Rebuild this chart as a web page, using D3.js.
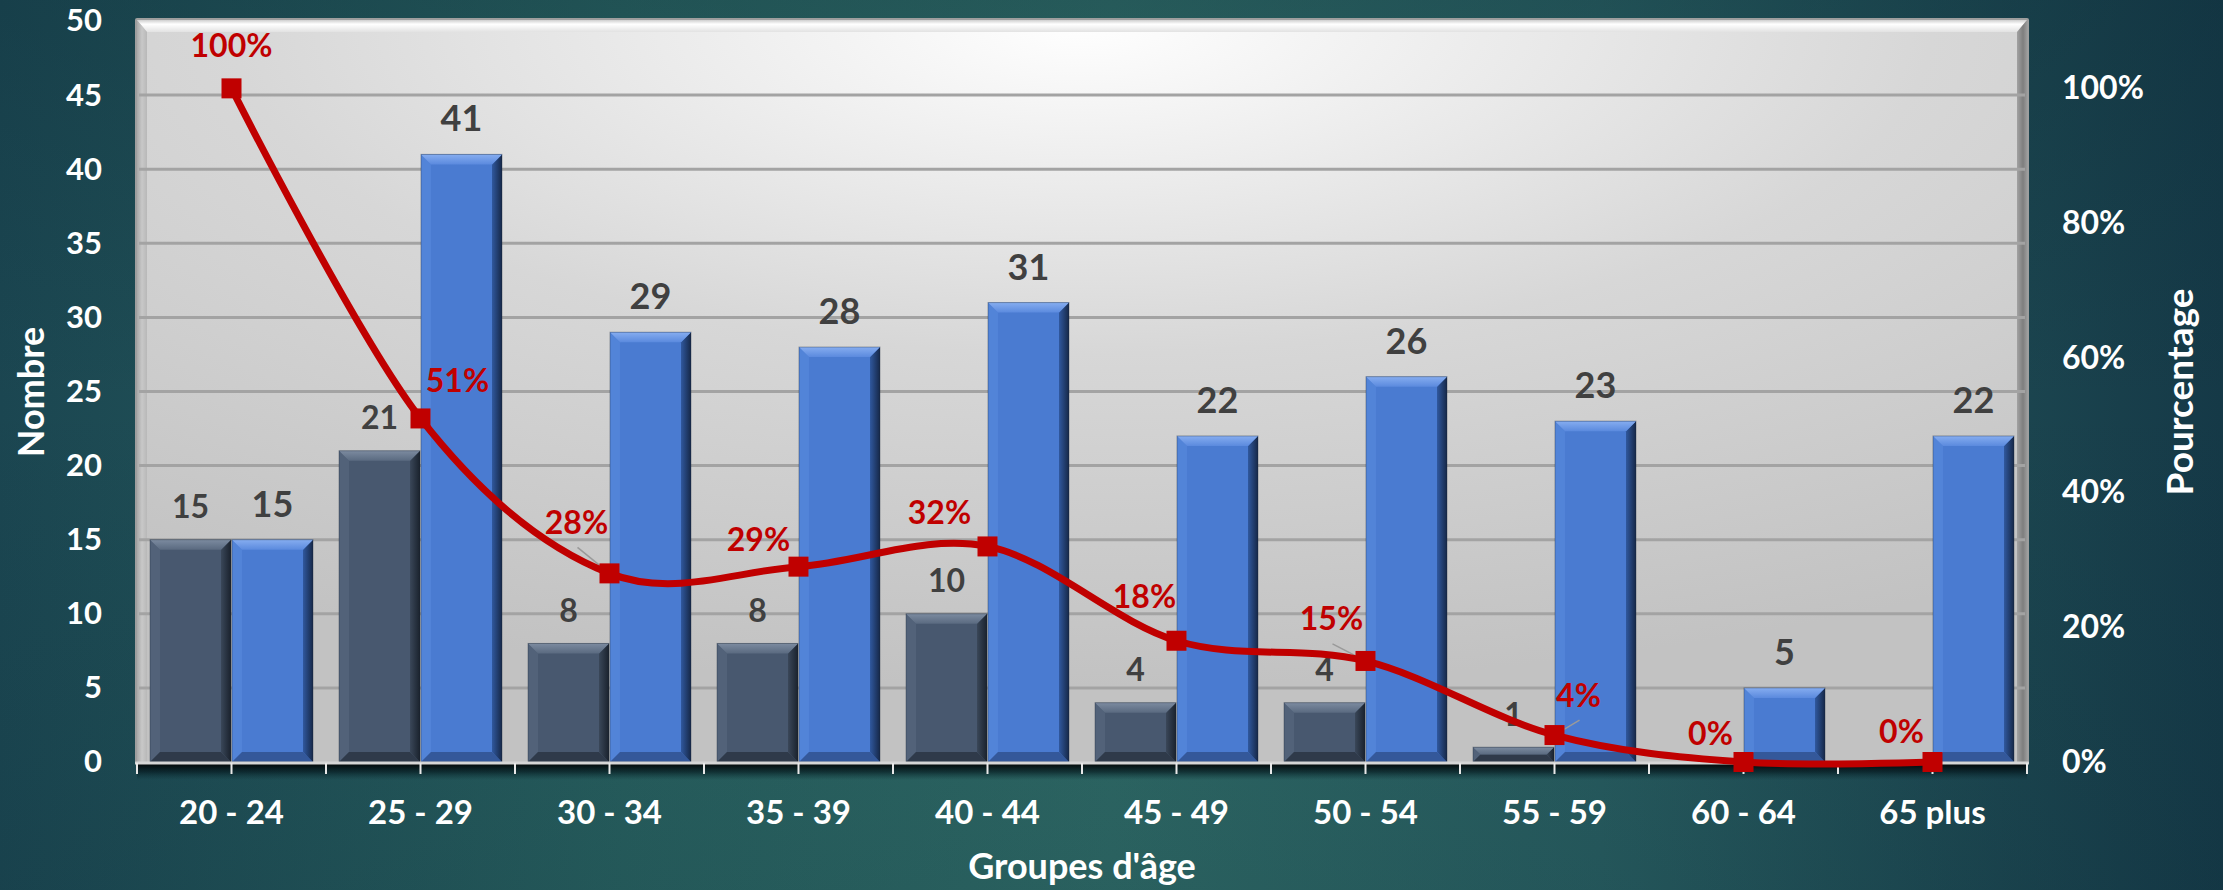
<!DOCTYPE html>
<html lang="fr">
<head>
<meta charset="utf-8">
<title>Groupes d'âge</title>
<script src="https://cdn.jsdelivr.net/npm/d3@7"></script>
<style>
  html, body { margin: 0; padding: 0; background: #1f5058; }
  svg { display: block; }
  text { font-family: Lato, "Open Sans", "Noto Sans", sans-serif; font-weight: 700; }
</style>
</head>
<body>
<svg id="chart" width="2223" height="890"></svg>
<script>
// ---- Data ----
const categories = ["20 - 24", "25 - 29", "30 - 34", "35 - 39", "40 - 44",
                    "45 - 49", "50 - 54", "55 - 59", "60 - 64", "65 plus"];
const countsDark = [15, 21, 8, 8, 10, 4, 4, 1, 0, 0];
const countsBlue = [15, 41, 29, 28, 31, 22, 26, 23, 5, 22];
const percentages = [1.00, 0.51, 0.28, 0.29, 0.32, 0.18, 0.15, 0.04, 0.00, 0.00];
const leftTicks = [0, 5, 10, 15, 20, 25, 30, 35, 40, 45, 50];
const rightTicks = [0, 0.2, 0.4, 0.6, 0.8, 1.0];

// ---- Label placement for the percentage line (offsets from each marker) ----
const pctLabelOffsets = [[0, -43], [37, -38], [-33, -51], [-40, -27], [-48, -34],
                         [-32, -44], [-34, -42], [24, -40], [-33, -29], [-31, -31]];
const pctLeader = [false, false, true, false, false, false, true, true, false, false];

// ---- Geometry ----
const W = 2223, H = 890;
const plot = { left: 137, right: 2027, top: 21, bottom: 762 };
const svg = d3.select("#chart");
const defs = svg.append("defs");

const x0 = d3.scaleBand(categories, [plot.left, plot.right])
  .paddingInner(0.1376).paddingOuter(0.0688);
const x1 = d3.scaleBand(["dark", "blue"], [0, x0.bandwidth()]).paddingInner(0.012);
const yLeft = d3.scaleLinear([0, 50], [plot.bottom, plot.top]);
const yRight = d3.scaleLinear([0, 1.1], [plot.bottom, plot.top]);

// ---- Gradients ----
function linear(id, x2, y2, stops) {
  const g = defs.append("linearGradient").attr("id", id)
    .attr("x1", 0).attr("y1", 0).attr("x2", x2).attr("y2", y2);
  stops.forEach(([o, c, a]) => g.append("stop").attr("offset", o)
    .attr("stop-color", c).attr("stop-opacity", a == null ? 1 : a));
}
linear("bgH", 1, 0, [[0, "#1b4651"], [0.28, "#28605f"], [0.5, "#2f6a66"], [0.72, "#285d60"], [1, "#153947"]]);
linear("bgV", 0, 1, [[0, "#0b2a35", 0.25], [0.45, "#0b2a35", 0], [1, "#0b2a35", 0.15]]);
const rg = defs.append("radialGradient").attr("id", "plotBg")
  .attr("cx", 0.5).attr("cy", 0).attr("r", 0.9);
[[0, "#ffffff"], [0.5, "#d7d7d7"], [1, "#c2c2c2"]].forEach(([o, c]) =>
  rg.append("stop").attr("offset", o).attr("stop-color", c));
linear("bevTop", 0, 1, [[0, "#cfcfcf"], [0.35, "#ffffff"], [1, "#e2e2e2"]]);
linear("bevLeft", 1, 0, [[0, "#a8a8a8"], [0.5, "#c8c8c8"], [1, "#b8b8b8"]]);
linear("bevRight", 1, 0, [[0, "#a2a2a2"], [0.6, "#7e7e7e"], [1, "#9a9a9a"]]);
linear("axisShadow", 0, 1, [[0, "#000000", 0.9], [0.5, "#03141a", 0.6], [1, "#0a2b30", 0]]);

const barStyles = {
  dark: { base: "#48586f", top: ["#7c8ba0", "#5a6a80"], left: "#526279",
          right: ["#3a4759", "#1a222d"], bottom: "#2f3a4a" },
  blue: { base: "#4a7bd1", top: ["#86adf0", "#5b8ade"], left: "#5284d8",
          right: ["#30589e", "#162848"], bottom: "#34589a" }
};
Object.entries(barStyles).forEach(([k, s]) => {
  linear("top-" + k, 0, 1, [[0, s.top[0]], [1, s.top[1]]]);
  linear("right-" + k, 1, 0, [[0, s.right[0]], [1, s.right[1]]]);
});

// ---- Background ----
svg.append("rect").attr("width", W).attr("height", H).attr("fill", "url(#bgH)");
svg.append("rect").attr("width", W).attr("height", H).attr("fill", "url(#bgV)");

// ---- Plot area with bevelled frame ----
const bv = 10;
svg.append("rect")
  .attr("x", plot.left - 2).attr("y", plot.top - 3)
  .attr("width", plot.right - plot.left + 4).attr("height", plot.bottom - plot.top + 4)
  .attr("fill", "#9e9e9e").attr("rx", 2);
svg.append("rect")
  .attr("x", plot.left).attr("y", plot.top - 1)
  .attr("width", plot.right - plot.left).attr("height", plot.bottom - plot.top + 1)
  .attr("fill", "url(#plotBg)");
const fTop = plot.top - 1;
svg.append("path").attr("fill", "url(#bevTop)")
  .attr("d", `M${plot.left},${fTop}L${plot.right},${fTop}L${plot.right - bv},${fTop + bv + 2}L${plot.left + bv},${fTop + bv + 2}Z`);
svg.append("path").attr("fill", "url(#bevLeft)")
  .attr("d", `M${plot.left},${fTop}L${plot.left + bv},${fTop + bv + 2}L${plot.left + bv},${plot.bottom}L${plot.left},${plot.bottom}Z`);
svg.append("path").attr("fill", "url(#bevRight)")
  .attr("d", `M${plot.right},${fTop}L${plot.right - bv},${fTop + bv + 2}L${plot.right - bv},${plot.bottom}L${plot.right},${plot.bottom}Z`);

// Gridlines
svg.append("g").selectAll("line")
  .data(leftTicks.filter(t => t > 0 && t < 50))
  .join("line")
  .attr("x1", plot.left + 2).attr("x2", plot.right - 2)
  .attr("y1", d => yLeft(d)).attr("y2", d => yLeft(d))
  .attr("stroke", "#a3a3a3").attr("stroke-width", 3);

// ---- Bars (with bevel) ----
const series = [
  { key: "dark", values: countsDark },
  { key: "blue", values: countsBlue }
];
const barData = [];
series.forEach(s => s.values.forEach((v, i) =>
  barData.push({ key: s.key, cat: categories[i], value: v })));

const barsG = svg.append("g");
barData.filter(d => d.value > 0).forEach(d => {
  const s = barStyles[d.key];
  const x = x0(d.cat) + x1(d.key);
  const w = x1.bandwidth();
  const yT = yLeft(d.value);
  const yB = yLeft(0);
  const b = Math.min(10, (yB - yT) / 2);
  const g = barsG.append("g");
  g.append("rect").attr("x", x).attr("y", yT).attr("width", w).attr("height", yB - yT).attr("fill", s.base);
  g.append("path").attr("fill", s.left)
    .attr("d", `M${x},${yT}L${x + b},${yT + b}L${x + b},${yB - b}L${x},${yB}Z`);
  g.append("path").attr("fill", s.bottom)
    .attr("d", `M${x},${yB}L${x + b},${yB - b}L${x + w - b},${yB - b}L${x + w},${yB}Z`);
  g.append("path").attr("fill", `url(#right-${d.key})`)
    .attr("d", `M${x + w},${yT}L${x + w - b},${yT + b}L${x + w - b},${yB - b}L${x + w},${yB}Z`);
  g.append("path").attr("fill", `url(#top-${d.key})`)
    .attr("d", `M${x},${yT}L${x + w},${yT}L${x + w - b},${yT + b}L${x + b},${yT + b}Z`);
  g.append("rect").attr("x", x).attr("y", yT).attr("width", w).attr("height", yB - yT)
    .attr("fill", "none").attr("stroke", "#1b2433").attr("stroke-opacity", 0.35).attr("stroke-width", 1);
});

// ---- X axis: baseline, shadow, ticks ----
svg.append("rect").attr("x", plot.left).attr("y", plot.bottom + 2)
  .attr("width", plot.right - plot.left).attr("height", 16).attr("fill", "url(#axisShadow)");
svg.append("line").attr("x1", plot.left - 2).attr("x2", plot.right + 2)
  .attr("y1", plot.bottom + 1).attr("y2", plot.bottom + 1)
  .attr("stroke", "#d6d6d6").attr("stroke-width", 3);
const step = x0.step();
const tickXs = [];
categories.forEach(c => {
  tickXs.push(x0(c) - x0.paddingOuter() * step);
  tickXs.push(x0(c) + x0.bandwidth() / 2);
});
tickXs.push(plot.right);
svg.append("g").selectAll("line").data(tickXs).join("line")
  .attr("x1", d => d).attr("x2", d => d)
  .attr("y1", plot.bottom + 1).attr("y2", plot.bottom + 12)
  .attr("stroke", "#e8e8e8").attr("stroke-width", 2);

// Category labels
svg.append("g").selectAll("text").data(categories).join("text")
  .attr("x", d => x0(d) + x0.bandwidth() / 2)
  .attr("y", 812).attr("dy", "0.36em")
  .attr("text-anchor", "middle").attr("fill", "#ffffff").attr("font-size", 33)
  .text(d => d);

// ---- Y axes ----
const axL = svg.append("g").attr("transform", `translate(${plot.left},0)`)
  .call(d3.axisLeft(yLeft).tickValues(leftTicks).tickSize(0).tickPadding(35));
axL.select(".domain").remove();
axL.selectAll("text").attr("fill", "#ffffff").attr("font-size", 31)
  .style("font-family", "Lato, 'Open Sans', sans-serif").style("font-weight", 700);

const axR = svg.append("g").attr("transform", `translate(${plot.right},0)`)
  .call(d3.axisRight(yRight).tickValues(rightTicks).tickSize(0).tickPadding(35)
    .tickFormat(d3.format(".0%")));
axR.select(".domain").remove();
axR.selectAll("text").attr("fill", "#ffffff").attr("font-size", 32)
  .style("font-family", "Lato, 'Open Sans', sans-serif").style("font-weight", 700);

// Axis titles
svg.append("text").attr("x", (plot.left + plot.right) / 2).attr("y", 866).attr("dy", "0.36em")
  .attr("text-anchor", "middle").attr("fill", "#ffffff").attr("font-size", 36)
  .text("Groupes d'âge");
svg.append("text").attr("transform", "translate(31,392) rotate(-90)").attr("dy", "0.36em")
  .attr("text-anchor", "middle").attr("fill", "#ffffff").attr("font-size", 36)
  .text("Nombre");
svg.append("text").attr("transform", "translate(2180,392) rotate(-90)").attr("dy", "0.36em")
  .attr("text-anchor", "middle").attr("fill", "#ffffff").attr("font-size", 37)
  .text("Pourcentage");

// ---- Bar value labels ----
svg.append("g").selectAll("text")
  .data(barData.filter(d => d.value > 0)).join("text")
  .attr("x", d => x0(d.cat) + x1(d.key) + x1.bandwidth() / 2)
  .attr("y", d => yLeft(d.value) - (d.key === "blue" ? 36 : 33))
  .attr("dy", "0.36em").attr("text-anchor", "middle")
  .attr("fill", "#404040").attr("font-size", d => d.key === "blue" ? 36 : 32)
  .text(d => d.value);

// ---- Percentage line ----
const pts = percentages.map((p, i) => ({
  x: x0(categories[i]) + x0.bandwidth() / 2, y: yRight(p), p, i
}));

// leader lines
svg.append("g").selectAll("line").data(pts.filter(d => pctLeader[d.i])).join("line")
  .attr("x1", d => d.x + pctLabelOffsets[d.i][0] + 1)
  .attr("y1", d => d.y + pctLabelOffsets[d.i][1] + 25)
  .attr("x2", d => d.x).attr("y2", d => d.y)
  .attr("stroke", "#9a9a9a").attr("stroke-width", 1.5);

svg.append("path").datum(pts)
  .attr("fill", "none").attr("stroke", "#c00000").attr("stroke-width", 7)
  .attr("stroke-linejoin", "round")
  .attr("d", d3.line().x(d => d.x).y(d => d.y).curve(d3.curveCatmullRom.alpha(0)));

svg.append("g").selectAll("rect").data(pts).join("rect")
  .attr("x", d => d.x - 10).attr("y", d => d.y - 10)
  .attr("width", 20).attr("height", 20).attr("fill", "#c00000");

svg.append("g").selectAll("text").data(pts).join("text")
  .attr("x", d => d.x + pctLabelOffsets[d.i][0])
  .attr("y", d => d.y + pctLabelOffsets[d.i][1])
  .attr("dy", "0.36em").attr("text-anchor", "middle")
  .attr("fill", "#c00000").attr("font-size", 32)
  .text(d => d3.format(".0%")(d.p));
</script>
</body>
</html>
